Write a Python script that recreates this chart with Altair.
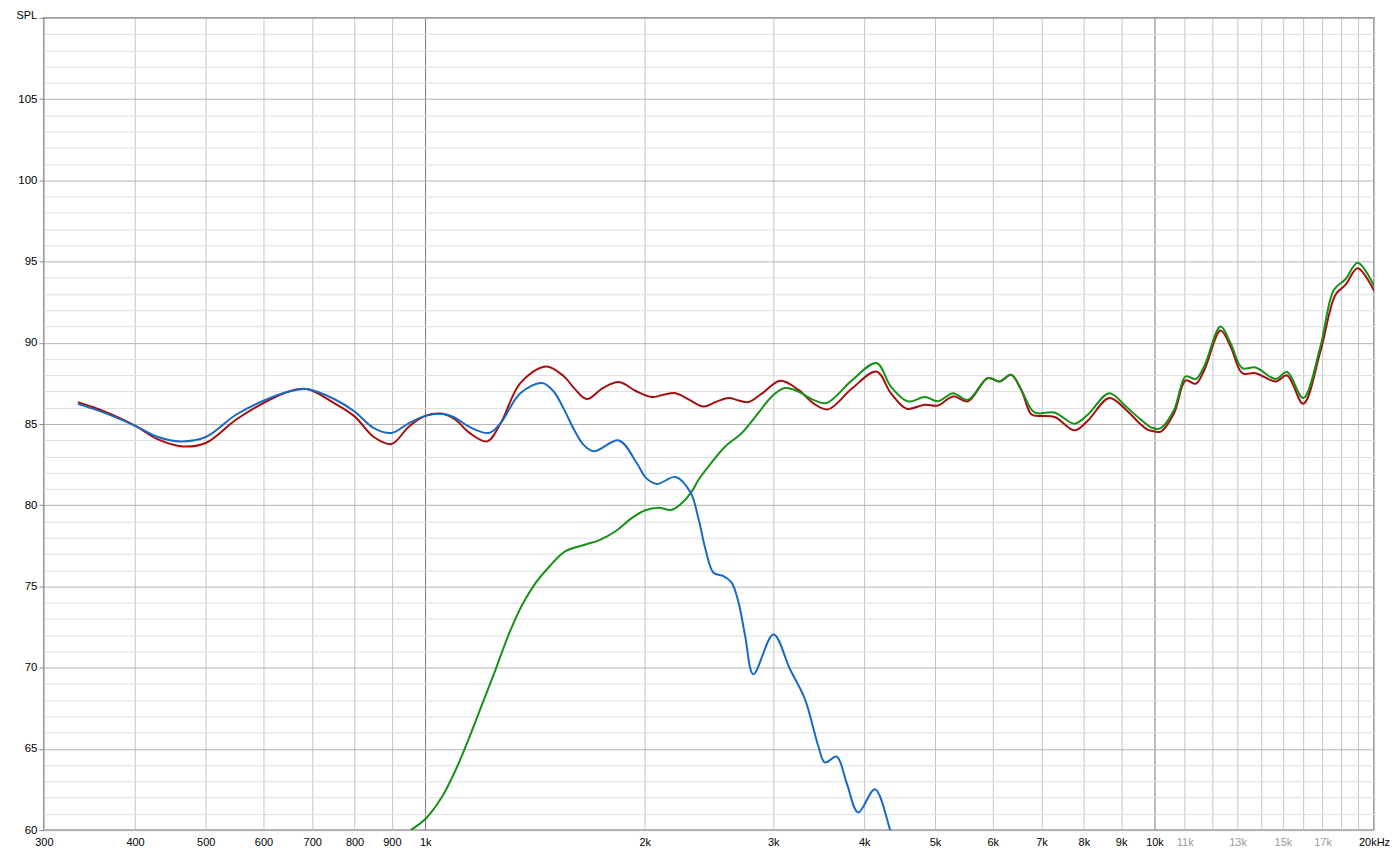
import altair as alt
import pandas as pd

# ---- data (frequency in Hz, level in dB SPL) ----
red_freq = [334, 350, 370, 401, 430, 465, 500, 550, 600, 650, 688, 750, 800, 850, 899, 950,
            1000, 1055, 1100, 1150, 1216, 1270, 1350, 1464, 1550, 1600, 1666, 1750, 1843, 1950,
            2044, 2120, 2205, 2300, 2408, 2500, 2606, 2690, 2775, 2900, 3069, 3250, 3400, 3565,
            3850, 4157, 4350, 4574, 4842, 5048, 5293, 5549, 5908, 6130, 6360, 6564, 6774, 6900,
            7293, 7768, 8098, 8670, 9137, 9560, 9780, 9990, 10200, 10640, 11035, 11390, 11695,
            12320, 12715, 13193, 13760, 14655, 15200, 15990, 16885, 17700, 18270, 18997, 20000]
red_db = [86.35, 86.05, 85.62, 84.87, 84.05, 83.62, 83.83, 85.26, 86.29, 87.0, 87.15, 86.29, 85.47, 84.2, 83.77, 84.85,
          85.5, 85.63, 85.26, 84.45, 83.93, 85.08, 87.52, 88.54, 87.93, 87.21, 86.54, 87.2, 87.58, 87.0,
          86.66, 86.8, 86.9, 86.5, 86.08, 86.35, 86.6, 86.45, 86.35, 86.9, 87.66, 87.1, 86.3, 85.9,
          87.2, 88.23, 86.9, 85.94, 86.19, 86.14, 86.7, 86.4, 87.83, 87.62, 88.03, 87.11, 85.6, 85.5,
          85.43, 84.61, 85.2, 86.6, 85.88, 85.0, 84.65, 84.55, 84.53, 85.68, 87.68, 87.48, 88.29,
          90.75, 89.77, 88.13, 88.13, 87.62, 87.99, 86.25, 89.46, 92.94, 93.56, 94.59, 93.2]

green_freq = [956, 1002, 1056, 1102, 1149, 1198, 1249, 1303, 1359, 1417, 1478, 1557, 1659, 1730, 1824,
              1921, 2004, 2090, 2179, 2249, 2321, 2370, 2446, 2578, 2717, 2863, 2987, 3114, 3248, 3400,
              3550, 3850, 4157, 4350, 4592, 4842, 5048, 5293, 5549, 5908, 6130, 6360, 6564, 6846, 7293,
              7768, 8098, 8670, 9137, 9560, 9938, 10200, 10640, 11035, 11390, 11695, 12320, 12715, 13193,
              13760, 14655, 15200, 15990, 16885, 17612, 18270, 18997, 20000]
green_db = [60.02, 60.72, 62.1, 63.75, 65.7, 67.8, 69.9, 72.1, 73.89, 75.22, 76.2, 77.17, 77.58, 77.84, 78.4,
            79.22, 79.69, 79.84, 79.72, 80.13, 80.85, 81.57, 82.39, 83.62, 84.45, 85.68, 86.7, 87.21, 87.0, 86.5,
            86.29, 87.7, 88.75, 87.3, 86.39, 86.66, 86.4, 86.9, 86.49, 87.83, 87.62, 88.03, 87.11, 85.71, 85.71,
            85.02, 85.57, 86.9, 86.08, 85.3, 84.75, 84.75, 85.88, 87.93, 87.77, 88.54, 91.0, 89.98, 88.44,
            88.48, 87.77, 88.2, 86.6, 89.77, 93.25, 93.91, 94.93, 93.5]

blue_freq = [334, 350, 370, 401, 430, 462, 500, 550, 600, 650, 688, 750, 800, 850, 899, 950,
             1000, 1055, 1100, 1150, 1223, 1270, 1350, 1446, 1500, 1550, 1600, 1650, 1703, 1843, 1950, 2006,
             2077, 2205, 2311, 2371, 2423, 2485, 2565, 2630, 2689, 2746, 2818, 3002, 3164, 3317,
             3459, 3533, 3665, 3782, 3924, 4136, 4337, 4360]
blue_db = [86.25, 85.95, 85.55, 84.87, 84.2, 83.93, 84.2, 85.57, 86.43, 87.0, 87.15, 86.54, 85.77, 84.75, 84.45, 85.06,
           85.5, 85.63, 85.37, 84.82, 84.45, 85.08, 86.9, 87.52, 87.0, 85.9, 84.65, 83.7, 83.32, 83.99, 82.6, 81.7,
           81.31, 81.74, 80.78, 79.12, 77.28, 75.84, 75.64, 75.25, 74.02, 71.95, 69.6, 72.05, 69.9, 68.05,
           65.18, 64.16, 64.53, 62.93, 61.09, 62.52, 60.06, 59.8]

x_ticks = [300, 400, 500, 600, 700, 800, 900,
           1000, 2000, 3000, 4000, 5000, 6000, 7000, 8000, 9000,
           10000, 11000, 12000, 13000, 14000, 15000, 16000, 17000, 18000, 19000, 20000]
y_ticks = list(range(60, 111))

red_df = pd.DataFrame({"f": red_freq, "db": red_db})
green_df = pd.DataFrame({"f": green_freq, "db": green_db})
blue_df = pd.DataFrame({"f": blue_freq, "db": blue_db})

FONT = "Liberation Sans"

x_label_expr = (
    "datum.value == 20000 ? '20kHz' : "
    "(datum.value == 12000 || datum.value == 14000 || datum.value == 16000 || "
    "datum.value == 18000 || datum.value == 19000) ? '' : "
    "datum.value >= 1000 ? (datum.value / 1000) + 'k' : '' + datum.value"
)

x_enc = alt.X(
    "f:Q",
    scale=alt.Scale(type="log", domain=[300, 20000], nice=False),
    axis=alt.Axis(
        values=x_ticks,
        labelExpr=x_label_expr,
        title=None,
        domain=False,
        ticks=False,
        labelOverlap=False,
        labelFlush=False,
        labelPadding=6,
        labelFont=FONT,
        labelFontSize=11,
        labelColor={"condition": {"test": "datum.value > 10500 && datum.value < 19500",
                                  "value": "#9a9a9a"}, "value": "#000000"},
        gridColor={"condition": {"test": "datum.value == 1000 || datum.value == 10000",
                                 "value": "#7a7a7a"}, "value": "#c4c4c4"},
        gridWidth=1,
    ),
)

y_enc = alt.Y(
    "db:Q",
    scale=alt.Scale(domain=[60, 110], nice=False),
    axis=alt.Axis(
        values=y_ticks,
        labelExpr="(datum.value % 5 == 0 && datum.value < 110) ? '' + datum.value : ''",
        title="SPL",
        titleAngle=0,
        titleAlign="left",
        titleBaseline="top",
        titleX=-28,
        titleY=-8,
        titleFont=FONT,
        titleFontSize=11,
        titleFontWeight="normal",
        domain=False,
        tickSize=5,
        tickColor={"condition": {"test": "datum.value % 5 == 0", "value": "#8a8a8a"},
                   "value": "transparent"},
        labelOverlap=False,
        labelPadding=2,
        labelFont=FONT,
        labelFontSize=11.5,
        labelColor="#000000",
        gridColor={"condition": {"test": "datum.value % 5 == 0", "value": "#b4b4b4"},
                   "value": "#dedede"},
        gridWidth=1,
    ),
)

def curve(df, color):
    return alt.Chart(df).mark_line(
        color=color, strokeWidth=2, interpolate="catmull-rom", clip=True
    ).encode(x=x_enc, y=y_enc)

red = curve(red_df, "#a50f0f")
green = curve(green_df, "#179117")
blue = curve(blue_df, "#1a6ac4")

chart = alt.layer(red, green, blue).properties(
    width=1333,
    height=814,
    autosize="none",
    padding={"left": 36, "top": 9, "right": 16, "bottom": 17},
    background="white",
).configure_view(
    stroke="#9c9c9c",
    strokeWidth=2,
)

chart.save("out.html", embed_options={"renderer": "svg", "actions": False})
